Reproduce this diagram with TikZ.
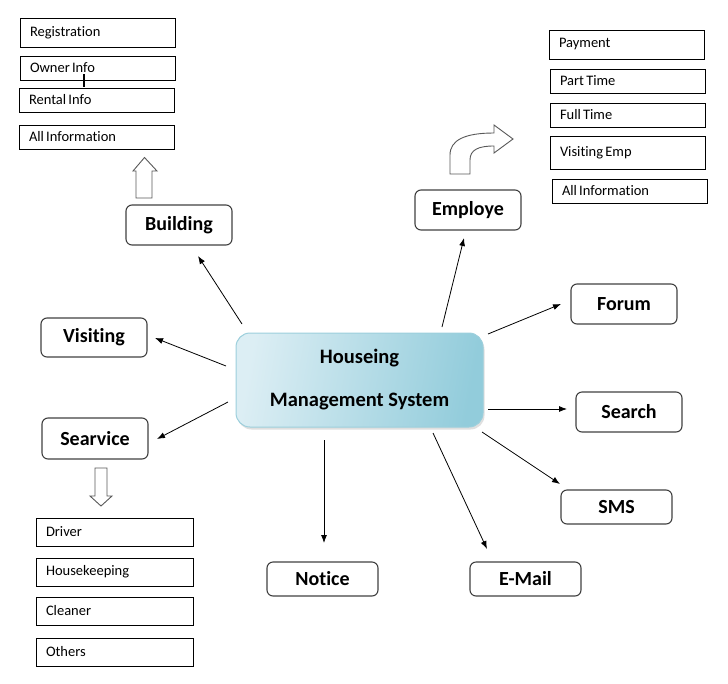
\documentclass[tikz,border=0pt]{standalone}
\usepackage{fontspec}
\setmainfont{Carlito}[Ligatures=NoCommon]
\usetikzlibrary{arrows.meta,shadows}
\definecolor{hmsLight}{HTML}{DCEEF4}
\definecolor{hmsDark}{HTML}{92CCDB}
\definecolor{hmsEdge}{HTML}{9CCFDC}
\definecolor{mainEdge}{HTML}{404040}
\definecolor{hollowEdge}{HTML}{595959}
\begin{document}
\begin{tikzpicture}[x=1pt,y=-1pt,
  mainbox/.style={draw=mainEdge, line width=1.1pt, rounded corners=6pt,
    minimum width=106pt, minimum height=40pt, inner sep=0pt,
    font=\bfseries\fontsize{20}{24}\selectfont},
  subbox/.style={draw=black, line width=0.8pt, inner xsep=10pt, inner ysep=0pt,
    align=left, text width=135pt, font=\fontsize{14.5}{17}\selectfont,
    execute at begin node={\spaceskip=2.2pt\relax}},
  link/.style={draw=black, line width=0.8pt, -{Latex[length=8pt,width=6pt]}},
  hollow/.style={draw=hollowEdge, line width=0.9pt, fill=white, line join=miter}
]
\useasboundingbox (0,0) rectangle (728,683);

% center node
\node[draw=hmsEdge, line width=1pt, rounded corners=14pt,
  minimum width=247pt, minimum height=94pt, inner sep=0pt,
  left color=hmsLight, right color=hmsDark, shading angle=80,
  drop shadow={shadow xshift=1.5pt, shadow yshift=-2.5pt, opacity=0.25},
  align=center, font=\bfseries\fontsize{20.5}{43}\selectfont]
  (hms) at (359.5,380) {Houseing\\Management System};

% main nodes
\node[mainbox] (building) at (179,225) {Building};
\node[mainbox] (employe) at (468,210) {Employe};
\node[mainbox, minimum height=39pt] (visiting) at (94,337.5) {Visiting};
\node[mainbox, minimum height=41pt] (searvice) at (95,438.5) {Searvice};
\node[mainbox] (forum) at (624,304) {Forum};
\node[mainbox] (search) at (629,412) {Search};
\node[mainbox, minimum width=111pt, minimum height=34pt] (sms) at (616.5,507) {SMS};
\node[mainbox, minimum width=111pt, minimum height=34pt] (email) at (525.5,579) {E-Mail};
\node[mainbox, minimum width=111pt, minimum height=34pt] (notice) at (322.5,579) {Notice};

% building sub boxes
\node[subbox, minimum height=29pt] (reg) at (97.5,32.5) {Registration};
\node[subbox, minimum height=24pt] (owner) at (97.5,68) {Owner Info};
\node[subbox, minimum height=24pt] (rental) at (96.5,100) {Rental Info};
\node[subbox, minimum height=24pt] (allinfoL) at (96.5,137) {All Information};
\draw[line width=1.3pt] (84,74) -- (84,87);

% employe sub boxes
\node[subbox, minimum height=29pt] (payment) at (626.5,44.5) {Payment};
\node[subbox, minimum height=24pt] (parttime) at (627.5,81) {Part Time};
\node[subbox, minimum height=24pt] (fulltime) at (627.5,115) {Full Time};
\node[subbox, minimum height=33pt] (visemp) at (627.5,152.5) {Visiting Emp};
\node[subbox, minimum height=24pt] (allinfoR) at (629.5,191) {All Information};

% service sub boxes
\node[subbox, text width=137pt, minimum height=28pt] (driver) at (114.5,532) {Driver};
\node[subbox, text width=137pt, minimum height=28pt] (house) at (114.5,572) {Housekeeping};
\node[subbox, text width=137pt, minimum height=28pt] (cleaner) at (114.5,611) {Cleaner};
\node[subbox, text width=137pt, minimum height=28pt] (others) at (114.5,652) {Others};

% hollow arrows
\draw[hollow] (136,198) -- (136,171) -- (133,171) -- (144.5,157.5) -- (157,171) -- (152,171) -- (152,198) -- cycle;
\draw[hollow] (95,468) -- (107,468) -- (107,496) -- (112,496) -- (101,506) -- (90,496) -- (95,496) -- cycle;
\draw[hollow] (450,174) -- (450,155) .. controls (450,140) and (465,133) .. (494,133)
  -- (494,125) -- (513,139) -- (494,153) -- (494,146)
  .. controls (478,146) and (470,150) .. (470,160) -- (470,174) -- cycle;

% connector end points
\coordinate (sB) at (242,324);  \coordinate (eB) at (198,256);
\coordinate (sE) at (442,327);  \coordinate (eE) at (464,238);
\coordinate (sF) at (488,334);  \coordinate (eF) at (561,304);
\coordinate (sV) at (226,366);  \coordinate (eV) at (155,338);
\coordinate (sS) at (228,402);  \coordinate (eS) at (157,439);
\coordinate (sR) at (488,409);  \coordinate (eR) at (567,409);
\coordinate (sM) at (482,432);  \coordinate (eM) at (560,484);
\coordinate (sL) at (433,433);  \coordinate (eL) at (487,549);
\coordinate (sN) at (324,440);  \coordinate (eN) at (324,543);

\draw[link] (sB) -- (eB);
\draw[link] (sE) -- (eE);
\draw[link] (sF) -- (eF);
\draw[link] (sV) -- (eV);
\draw[link] (sS) -- (eS);
\draw[link] (sR) -- (eR);
\draw[link] (sM) -- (eM);
\draw[link] (sL) -- (eL);
\draw[link] (sN) -- (eN);
\end{tikzpicture}
\end{document}
